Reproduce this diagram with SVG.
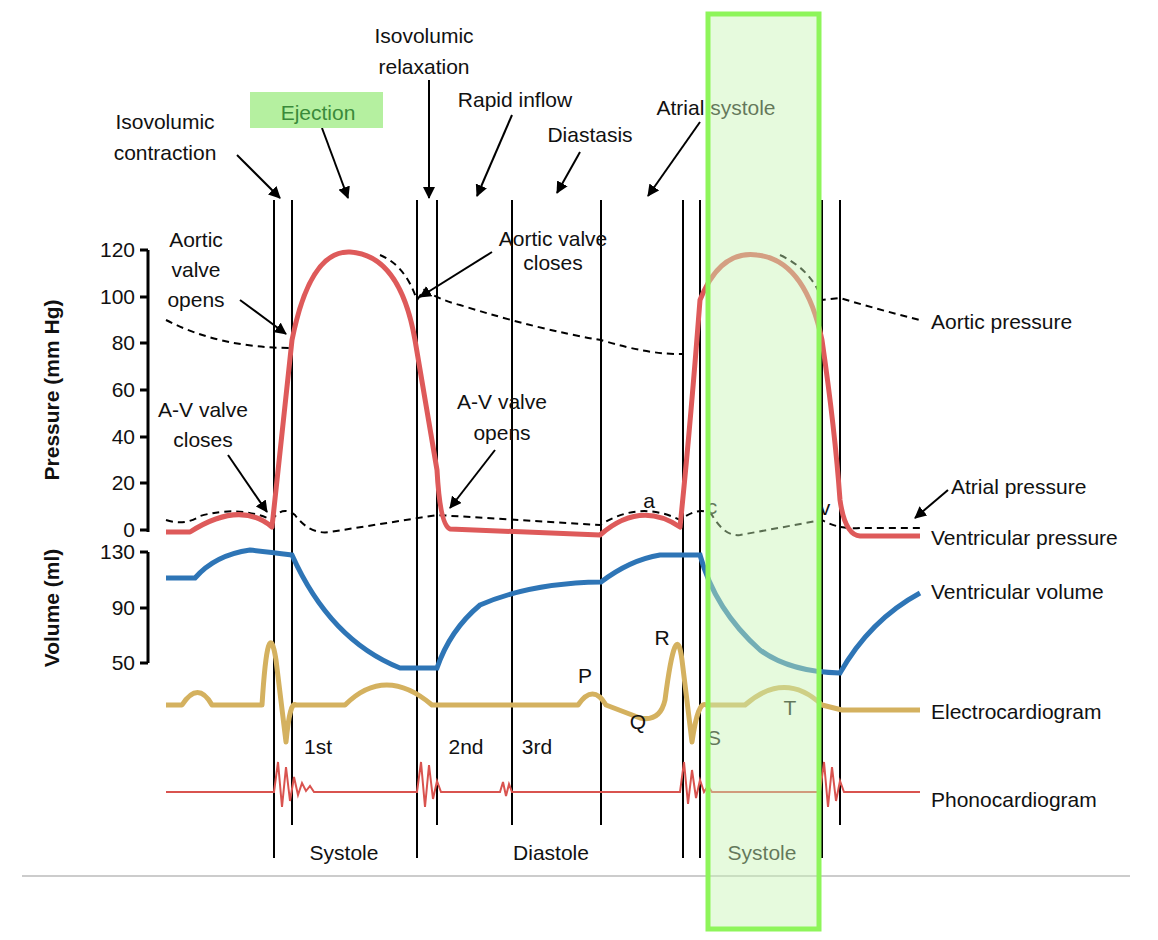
<svg xmlns="http://www.w3.org/2000/svg" width="1158" height="940" viewBox="0 0 1158 940">
<style>
text{font-family:"Liberation Sans",Arial,sans-serif;font-size:21px;fill:#111}
.c{text-anchor:middle}
.v{stroke:#000;stroke-width:2;fill:none}
.ar{stroke:#000;stroke-width:2;fill:none;marker-end:url(#ah)}
.ax{stroke:#000;stroke-width:3;fill:none}
</style>
<defs><marker id="ah" markerWidth="12" markerHeight="12" refX="11" refY="6" orient="auto" markerUnits="userSpaceOnUse"><path d="M0,0L12,6L0,12z" fill="#000"/></marker></defs>
<rect width="1158" height="940" fill="#fff"/>
<line x1="22" y1="876" x2="1130" y2="876" stroke="#999" stroke-width="1"/>
<g id="axes">
<path class="ax" d="M148,250V532M140,250H148M140,297H148M140,343H148M140,390H148M140,437H148M140,483H148M140,530H148"/>
<path class="ax" d="M148,552V663M140,552H148M140,608H148M140,663H148"/>
<g text-anchor="end"><text x="135" y="257">120</text><text x="135" y="304">100</text><text x="135" y="350">80</text><text x="135" y="397">60</text><text x="135" y="444">40</text><text x="135" y="490">20</text><text x="135" y="537">0</text><text x="135" y="559">130</text><text x="135" y="615">90</text><text x="135" y="670">50</text></g>
<text class="c" transform="translate(59,390) rotate(-90)" style="font-weight:bold">Pressure (mm Hg)</text>
<text class="c" transform="translate(59,608) rotate(-90)" style="font-weight:bold">Volume (ml)</text>
</g>
<g id="phase-lines">
<path class="v" d="M274,200V858M292,200V825M417,200V858M437,200V825M512,200V825M601,200V825M683,200V858M700,200V858M822,200V858M840,200V825"/>
</g>
<g id="curves">
<path d="M166,792H274l4,-30 4,45 4,-40 4,34 4,-24 4,18 4,-12 4,8 4,-5 4,6H417l4,-30 4,45 4,-42 4,34 4,-18 4,11H500l3,-10 3,14 3,-12 3,8H680l4,-30 4,42 4,-34 4,28 4,-18 4,12 4,-6 4,6H820l4,-30 4,45 4,-40 4,34 4,-20 4,11H920" fill="none" stroke="#d9534f" stroke-width="2"/>
<path d="M166,705H182Q198,680 212,705H262Q268,610 276,660L286,742Q290,700 296,705H345Q385,665 432,705H578Q593,683 606,705L640,718Q660,722 665,700Q676,615 682,660L692,742Q698,700 706,705H745Q785,670 822,705L842,710H920" fill="none" stroke="#d4b15f" stroke-width="5" stroke-linejoin="round"/>
<path d="M166,578H195Q215,555 250,550Q268,552 292,555Q330,640 400,668H437Q450,630 480,605Q530,583 601,582Q630,560 660,555H700Q715,610 760,650Q790,672 840,673Q870,620 920,593" fill="none" stroke="#2e75b6" stroke-width="5"/>
<path d="M166,520Q185,526 200,516Q240,505 272,520Q282,505 295,515Q310,535 330,532L437,515L600,525Q640,500 680,520Q700,505 712,515Q725,537 740,535L822,520Q840,530 860,528H920" fill="none" stroke="#000" stroke-width="2" stroke-dasharray="7,5"/>
<path d="M166,532H190Q240,500 272,527Q282,430 292,340Q310,250 350,252Q400,255 415,340Q430,430 437,470Q440,525 450,529L600,535Q640,500 680,527Q690,430 700,300Q720,250 757,255Q805,260 822,340Q835,430 840,500Q845,535 860,536H920" fill="none" stroke="#de5a5a" stroke-width="5" stroke-linejoin="round"/>
<path d="M166,320Q220,348 292,348M380,255Q405,265 417,300L424,290Q440,300 460,305Q540,330 601,340Q650,355 683,354M780,255Q812,270 822,300L840,298Q880,310 920,320" fill="none" stroke="#000" stroke-width="2" stroke-dasharray="7,5"/>
</g>
<g id="connectors">
<path class="ar" d="M237,155L280,198"/><path class="ar" d="M322,128L348,198"/><path class="ar" d="M429,80V198"/><path class="ar" d="M512,115L477,196"/><path class="ar" d="M580,152L557,193"/><path class="ar" d="M700,122L648,196"/><path class="ar" d="M240,300L286,334"/><path class="ar" d="M492,252L420,297"/><path class="ar" d="M228,455L267,512"/><path class="ar" d="M495,450L450,508"/><path class="ar" d="M948,490L915,518"/>
</g>
<g id="labels">
<rect x="250" y="92" width="133" height="36" fill="#b5f0a0"/>
<text class="c" x="318" y="120" style="fill:#3a8a3a">Ejection</text>
<text class="c" x="165" y="129">Isovolumic</text><text class="c" x="165" y="160">contraction</text>
<text class="c" x="424" y="43">Isovolumic</text><text class="c" x="424" y="74">relaxation</text>
<text class="c" x="515" y="107">Rapid inflow</text>
<text class="c" x="590" y="142">Diastasis</text>
<text class="c" x="716" y="115">Atrial systole</text>
<text class="c" x="196" y="247">Aortic</text><text class="c" x="196" y="277">valve</text><text class="c" x="196" y="307">opens</text>
<text class="c" x="553" y="246">Aortic valve</text><text class="c" x="553" y="270">closes</text>
<text class="c" x="203" y="417">A-V valve</text><text class="c" x="203" y="447">closes</text>
<text class="c" x="502" y="409">A-V valve</text><text class="c" x="502" y="440">opens</text>
<text class="c" x="649" y="508">a</text><text class="c" x="712" y="514">c</text><text class="c" x="825" y="515">v</text>
<text class="c" x="662" y="645">R</text><text class="c" x="585" y="683">P</text><text class="c" x="638" y="729">Q</text><text class="c" x="714" y="745">S</text><text class="c" x="790" y="715">T</text>
<text class="c" x="318" y="754">1st</text><text class="c" x="466" y="754">2nd</text><text class="c" x="537" y="754">3rd</text>
<text class="c" x="344" y="860">Systole</text><text class="c" x="551" y="860">Diastole</text><text class="c" x="762" y="860">Systole</text>
<text x="931" y="329">Aortic pressure</text><text x="951" y="494">Atrial pressure</text><text x="931" y="545">Ventricular pressure</text><text x="931" y="599">Ventricular volume</text><text x="931" y="719">Electrocardiogram</text><text x="931" y="807">Phonocardiogram</text>
</g>
<rect x="708" y="14" width="111" height="915" fill="#c8f5b4" fill-opacity="0.45" stroke="#8ef55a" stroke-width="5"/>
</svg>
